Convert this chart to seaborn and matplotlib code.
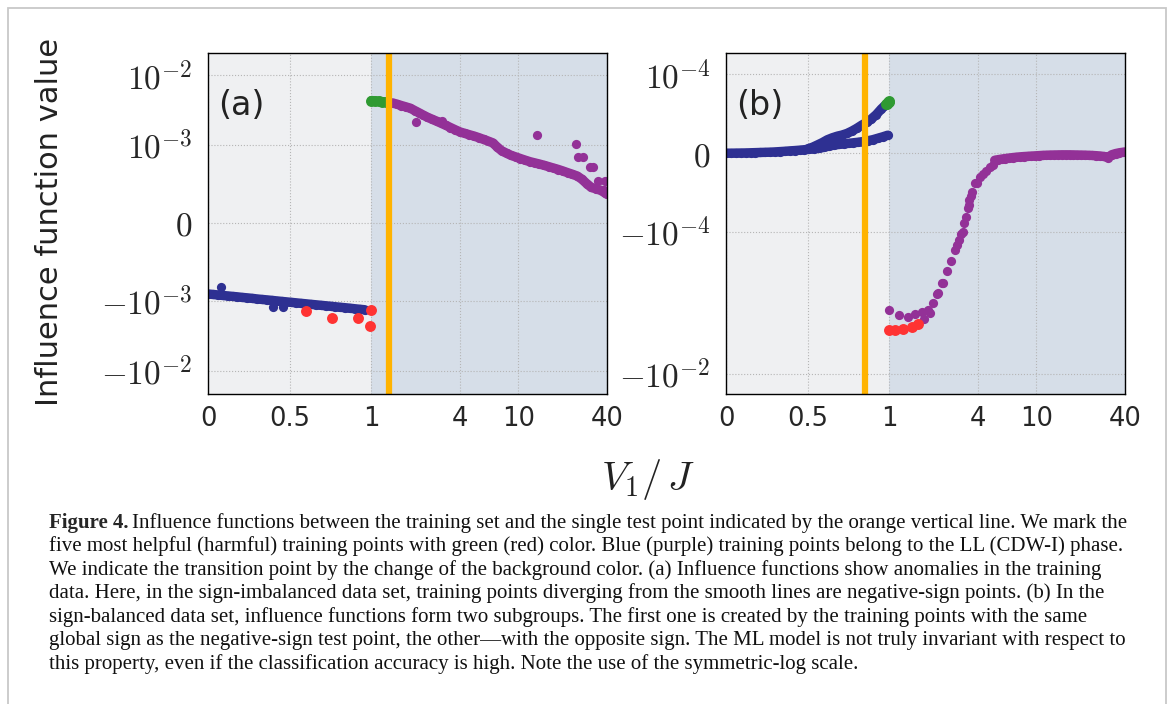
import numpy as np
import pandas as pd
import matplotlib
matplotlib.use("Agg")
import matplotlib.pyplot as plt
from matplotlib.patches import Rectangle
import seaborn as sns

# ---------------- data ----------------
# panel (a): smooth curves and the points that stray from them
a_blue_x = [0, 0.03, 0.06, 0.09, 0.12, 0.15, 0.18, 0.21, 0.24, 0.27, 0.30, 0.33,
            0.36, 0.39, 0.42, 0.45, 0.48, 0.51, 0.54, 0.57, 0.60, 0.63, 0.66, 0.69,
            0.72, 0.75, 0.78, 0.81, 0.84, 0.87, 0.90, 0.93, 0.96]
a_blue_y = [-0.913e-3, -0.919e-3, -0.925e-3, -0.932e-3, -0.938e-3, -0.944e-3, -0.950e-3,
            -0.957e-3, -0.963e-3, -0.969e-3, -0.977e-3, -0.983e-3, -0.989e-3, -0.995e-3,
            -1.005e-3, -1.021e-3, -1.038e-3, -1.054e-3, -1.072e-3, -1.089e-3, -1.107e-3,
            -1.125e-3, -1.143e-3, -1.161e-3, -1.180e-3, -1.199e-3, -1.219e-3, -1.239e-3,
            -1.259e-3, -1.279e-3, -1.303e-3, -1.324e-3, -1.346e-3]
a_blue_out_x = [0.08, 0.40, 0.46]
a_blue_out_y = [-0.82e-3, -1.23e-3, -1.23e-3]
a_red_x = [0.60, 0.76, 0.92, 1.0, 0.99]
a_red_y = [-1.40e-3, -1.76e-3, -1.76e-3, -1.36e-3, -2.29e-3]
a_green_x = [1.0, 1.06, 1.12, 1.18, 1.25]
a_green_y = [4.35e-3, 4.30e-3, 4.25e-3, 4.20e-3, 4.15e-3]
a_purple_x = [1.30, 1.40, 1.50, 1.60, 1.72, 1.84, 1.97, 2.1, 2.25, 2.4, 2.6, 2.8, 3.0,
              3.2, 3.45, 3.7, 4.0, 4.3, 4.6, 5.0, 5.4, 5.8, 6.2, 6.7, 7.2, 7.7, 8.3,
              8.9, 9.6, 10.3, 11.1, 12.0, 12.9, 13.9, 15.0, 16.1, 17.4, 18.7, 20.1,
              21.7, 23.3, 25.1, 27.0, 29.1, 31.3, 33.7, 36.3, 39.0, 40.0]
a_purple_y = [4.06e-3, 4.01e-3, 3.85e-3, 3.69e-3, 3.53e-3, 3.38e-3, 3.13e-3, 2.92e-3,
              2.70e-3, 2.52e-3, 2.34e-3, 2.19e-3, 2.05e-3, 1.93e-3, 1.79e-3, 1.67e-3,
              1.55e-3, 1.48e-3, 1.42e-3, 1.35e-3, 1.28e-3, 1.21e-3, 1.15e-3, 1.08e-3,
              0.973e-3, 0.928e-3, 0.897e-3, 0.870e-3, 0.849e-3, 0.829e-3, 0.808e-3,
              0.788e-3, 0.773e-3, 0.758e-3, 0.741e-3, 0.724e-3, 0.705e-3, 0.688e-3,
              0.668e-3, 0.646e-3, 0.626e-3, 0.604e-3, 0.563e-3, 0.506e-3, 0.457e-3,
              0.440e-3, 0.419e-3, 0.385e-3, 0.370e-3]
a_purple_out_x = [2.01, 3.0, 13.4, 24.7, 25.5, 27.3, 30.8, 32.0, 35.0, 38.5, 38.0]
a_purple_out_y = [2.15e-3, 2.20e-3, 1.40e-3, 1.04e-3, 0.85e-3, 0.85e-3, 0.72e-3, 0.72e-3,
                  0.54e-3, 0.54e-3, 0.42e-3]

# panel (b): two blue subgroups, sparse purple drop, dense purple plateau
b_blue_lo_x = [0, 0.03, 0.06, 0.09, 0.12, 0.15, 0.18, 0.21, 0.24, 0.27, 0.30, 0.33,
               0.36, 0.39, 0.42, 0.45, 0.48, 0.51, 0.54, 0.57, 0.60, 0.63, 0.66, 0.69,
               0.72, 0.75, 0.78, 0.81, 0.84, 0.87, 0.90, 0.93, 0.96, 0.99]
b_blue_lo_y = [0, 0.0, 0.1e-6, 0.2e-6, 0.3e-6, 0.5e-6, 0.7e-6, 0.9e-6, 1.1e-6, 1.3e-6,
               1.6e-6, 2.0e-6, 2.4e-6, 2.9e-6, 3.3e-6, 3.8e-6, 4.4e-6, 5.0e-6, 5.6e-6,
               6.2e-6, 7.5e-6, 9.0e-6, 10.2e-6, 11.1e-6, 11.8e-6, 12.5e-6, 13.2e-6,
               13.9e-6, 14.8e-6, 15.8e-6, 17.2e-6, 19.0e-6, 20.8e-6, 22.8e-6]
b_blue_hi_x = [0.50, 0.53, 0.56, 0.59, 0.62, 0.65, 0.68, 0.71, 0.74, 0.77, 0.80, 0.83,
               0.86, 0.89, 0.92, 0.95, 0.97]
b_blue_hi_y = [5.5e-6, 7.6e-6, 10.5e-6, 13.5e-6, 17.0e-6, 19.5e-6, 21.5e-6, 23.0e-6,
               25.0e-6, 28.0e-6, 31.5e-6, 35.5e-6, 39.0e-6, 43.5e-6, 49.0e-6, 56.0e-6,
               60.0e-6]
b_green_x = [0.98, 0.985, 0.99, 0.995, 1.0]
b_green_y = [6.2e-5, 6.3e-5, 6.45e-5, 6.55e-5, 6.6e-5]
b_red_x = [1.00, 1.09, 1.24, 1.42, 1.57]
b_red_y = [-2.41e-3, -2.41e-3, -2.33e-3, -2.16e-3, -1.98e-3]
b_purple_drop_x = [1.00, 1.17, 1.33, 1.50, 1.66, 1.72, 1.84, 1.89, 1.99, 2.12, 2.15,
                   2.27, 2.33, 2.45, 2.61, 2.80, 2.90, 2.99, 3.07, 3.18, 3.22, 3.32,
                   3.40, 3.47, 3.50, 3.59, 3.63, 3.83, 3.97, 4.14, 4.36, 4.55, 4.84, 5.05]
b_purple_drop_y = [-1.26e-3, -1.48e-3, -1.56e-3, -1.45e-3, -1.33e-3, -1.70e-3, -1.26e-3,
                   -1.37e-3, -1.01e-3, -7.5e-4, -7.3e-4, -5.3e-4, -5.2e-4, -3.6e-4,
                   -2.54e-4, -1.8e-4, -1.53e-4, -1.3e-4, -1.05e-4, -9.97e-5, -8.9e-5,
                   -8.1e-5, -7.0e-5, -6.6e-5, -5.96e-5, -5.45e-5, -4.9e-5, -3.84e-5,
                   -3.76e-5, -3.0e-5, -2.7e-5, -2.24e-5, -1.81e-5, -1.52e-5]
b_purple_flat_x = [5.2, 5.5, 5.8, 6.1, 6.5, 6.9, 7.3, 7.7, 8.2, 8.7, 9.2, 9.8, 10.4,
                   11.0, 11.7, 12.4, 13.2, 14.0, 14.9, 15.8, 16.8, 17.8, 18.9, 20.1,
                   21.3, 22.6, 24.0, 25.5, 27.1, 28.8, 30.6, 32.5, 34.5, 36.6, 38.8, 40.0]
b_purple_flat_y = [-9.0e-6, -8.2e-6, -7.5e-6, -6.9e-6, -6.2e-6, -5.6e-6, -5.1e-6, -4.7e-6,
                   -4.3e-6, -4.0e-6, -3.7e-6, -3.4e-6, -3.1e-6, -2.8e-6, -2.6e-6, -2.4e-6,
                   -2.3e-6, -2.2e-6, -2.1e-6, -2.1e-6, -2.1e-6, -2.2e-6, -2.3e-6, -2.4e-6,
                   -2.5e-6, -2.7e-6, -2.9e-6, -3.2e-6, -3.6e-6, -4.2e-6, -5.5e-6, -2.0e-6,
                   -0.5e-6, 0.5e-6, 1.2e-6, 1.5e-6]

test_point = {"a": 1.32, "b": 0.85}
x_ticks = [0, 0.5, 1, 4, 10, 40]
x_ticklabels = ["0", "0.5", "1", "4", "10", "40"]
a_yticks = [-1e-2, -1e-3, 0, 1e-3, 1e-2]
a_yticklabels = [r"$-10^{-2}$", r"$-10^{-3}$", r"$0$", r"$10^{-3}$", r"$10^{-2}$"]
b_yticks = [-1e-2, -1e-4, 0, 1e-4]
b_yticklabels = [r"$-10^{-2}$", r"$-10^{-4}$", r"$0$", r"$10^{-4}$"]

caption_lines = [
    "Influence functions between the training set and the single test point indicated by the orange vertical line. We mark the",
    "five most helpful (harmful) training points with green (red) color. Blue (purple) training points belong to the LL (CDW-I) phase.",
    "We indicate the transition point by the change of the background color. (a) Influence functions show anomalies in the training",
    "data. Here, in the sign-imbalanced data set, training points diverging from the smooth lines are negative-sign points. (b) In the",
    "sign-balanced data set, influence functions form two subgroups. The first one is created by the training points with the same",
    "global sign as the negative-sign test point, the other\u2014with the opposite sign. The ML model is not truly invariant with respect to",
    "this property, even if the classification accuracy is high. Note the use of the symmetric-log scale.",
]

# ---------------- style ----------------
sns.set_theme(style="white")
plt.rcParams["font.family"] = ["DejaVu Sans"]
plt.rcParams["mathtext.fontset"] = "cm"

BLUE = "#2e3092"
PURPLE = "#933197"
GREEN = "#2f9a32"
RED = "#ff3333"
ORANGE = "#ffb300"
BG_LL = "#eff0f2"
BG_CDW = "#d6dee8"
DOT = 44      # small points
BIG = 62      # most helpful / harmful points
BAND = 6.8    # width of dense runs of points

W, H = 1171, 704
fig = plt.figure(figsize=(W / 100, H / 100), dpi=100)
fig.patch.set_facecolor("white")

ax_a = fig.add_axes([208 / W, 1 - 394 / H, 399 / W, 341 / H])
ax_b = fig.add_axes([726 / W, 1 - 394 / H, 399 / W, 341 / H])


def dots(ax, x, y, color, s):
    sns.scatterplot(x=x, y=y, color=color, s=s, linewidth=0, ax=ax, zorder=3,
                    legend=False)


def band(ax, x, y, color):
    # dense runs of training points read as one thick band
    sns.lineplot(x=x, y=y, color=color, lw=BAND, sort=False, estimator=None,
                 solid_capstyle="round", ax=ax, zorder=3)
    dots(ax, x, y, color, DOT)


# panel (a)
band(ax_a, a_blue_x, a_blue_y, BLUE)
dots(ax_a, a_blue_out_x, a_blue_out_y, BLUE, DOT)
band(ax_a, a_purple_x, a_purple_y, PURPLE)
dots(ax_a, a_purple_out_x, a_purple_out_y, PURPLE, DOT)
band(ax_a, a_green_x, a_green_y, GREEN)
dots(ax_a, a_green_x, a_green_y, GREEN, BIG)
dots(ax_a, a_red_x, a_red_y, RED, BIG)

# panel (b)
band(ax_b, b_blue_lo_x, b_blue_lo_y, BLUE)
band(ax_b, b_blue_hi_x, b_blue_hi_y, BLUE)
dots(ax_b, b_purple_drop_x, b_purple_drop_y, PURPLE, DOT)
band(ax_b, b_purple_flat_x, b_purple_flat_y, PURPLE)
dots(ax_b, b_green_x, b_green_y, GREEN, BIG)
dots(ax_b, b_red_x, b_red_y, RED, BIG)

panels = [(ax_a, "a", 1e-3, (-0.0215, 0.0208), a_yticks, a_yticklabels),
          (ax_b, "b", 1e-4, (-0.0192, 0.0002), b_yticks, b_yticklabels)]

for ax, tag, lt, ylim, yt, ytl in panels:
    ax.set_xscale("symlog", linthresh=1, linscale=1)
    ax.set_yscale("symlog", linthresh=lt, linscale=1)
    ax.axvspan(0, 1, color=BG_LL, zorder=0, lw=0)
    ax.axvspan(1, 40, color=BG_CDW, zorder=0, lw=0)
    ax.axvline(test_point[tag], color=ORANGE, lw=4.5, zorder=5)
    ax.set_xlim(0, 40)
    ax.set_ylim(*ylim)
    ax.set_xticks(x_ticks)
    ax.set_xticklabels(x_ticklabels, fontsize=18.5)
    ax.set_yticks(yt)
    ax.set_yticklabels(ytl, fontsize=24)
    ax.minorticks_off()
    ax.tick_params(axis="y", length=0, pad=11)
    ax.tick_params(axis="x", length=0, pad=9)
    ax.set_axisbelow(True)
    ax.grid(True, ls=":", color="#b5b5b5", lw=0.8, zorder=1)
    ax.set_xlabel("")
    ax.set_ylabel("")
    for sp in ax.spines.values():
        sp.set_color("black")
        sp.set_linewidth(1.0)
        sp.set_zorder(6)
    ax.text(0.025, 0.845, f"({tag})", transform=ax.transAxes, fontsize=24,
            va="center", ha="left", color="#222222")

fig.text(50 / W, 1 - 222 / H, "Influence function value", rotation=90,
         fontsize=22, ha="center", va="center", color="#222222")
fig.text(648 / W, 1 - 479 / H, r"$V_1/\,J$", fontsize=29, ha="center",
         va="center", color="#222222")

# caption
renderer = fig.canvas.get_renderer()
cap_x = 49 / W
CAP_FS = 15.0
first = fig.text(cap_x, 1 - 523 / H, "Figure 4.", fontsize=CAP_FS, fontweight="bold",
                 family=["Liberation Serif"], va="center", ha="left")
bb = first.get_window_extent(renderer)
for i, line in enumerate(caption_lines):
    y = 1 - (523 + 23.5 * i) / H
    x = (bb.x1 + 4) / W if i == 0 else cap_x
    fig.text(x, y, line, fontsize=CAP_FS, family=["Liberation Serif"],
             va="center", ha="left", color="#111111")

# page frame
fig.add_artist(Rectangle((8 / W, -0.05), (1166 - 8) / W, (704 - 8) / H + 0.05,
                         transform=fig.transFigure, fill=False, ec="#c8c8c8", lw=1.3))

fig.savefig("out.png", dpi=100)
